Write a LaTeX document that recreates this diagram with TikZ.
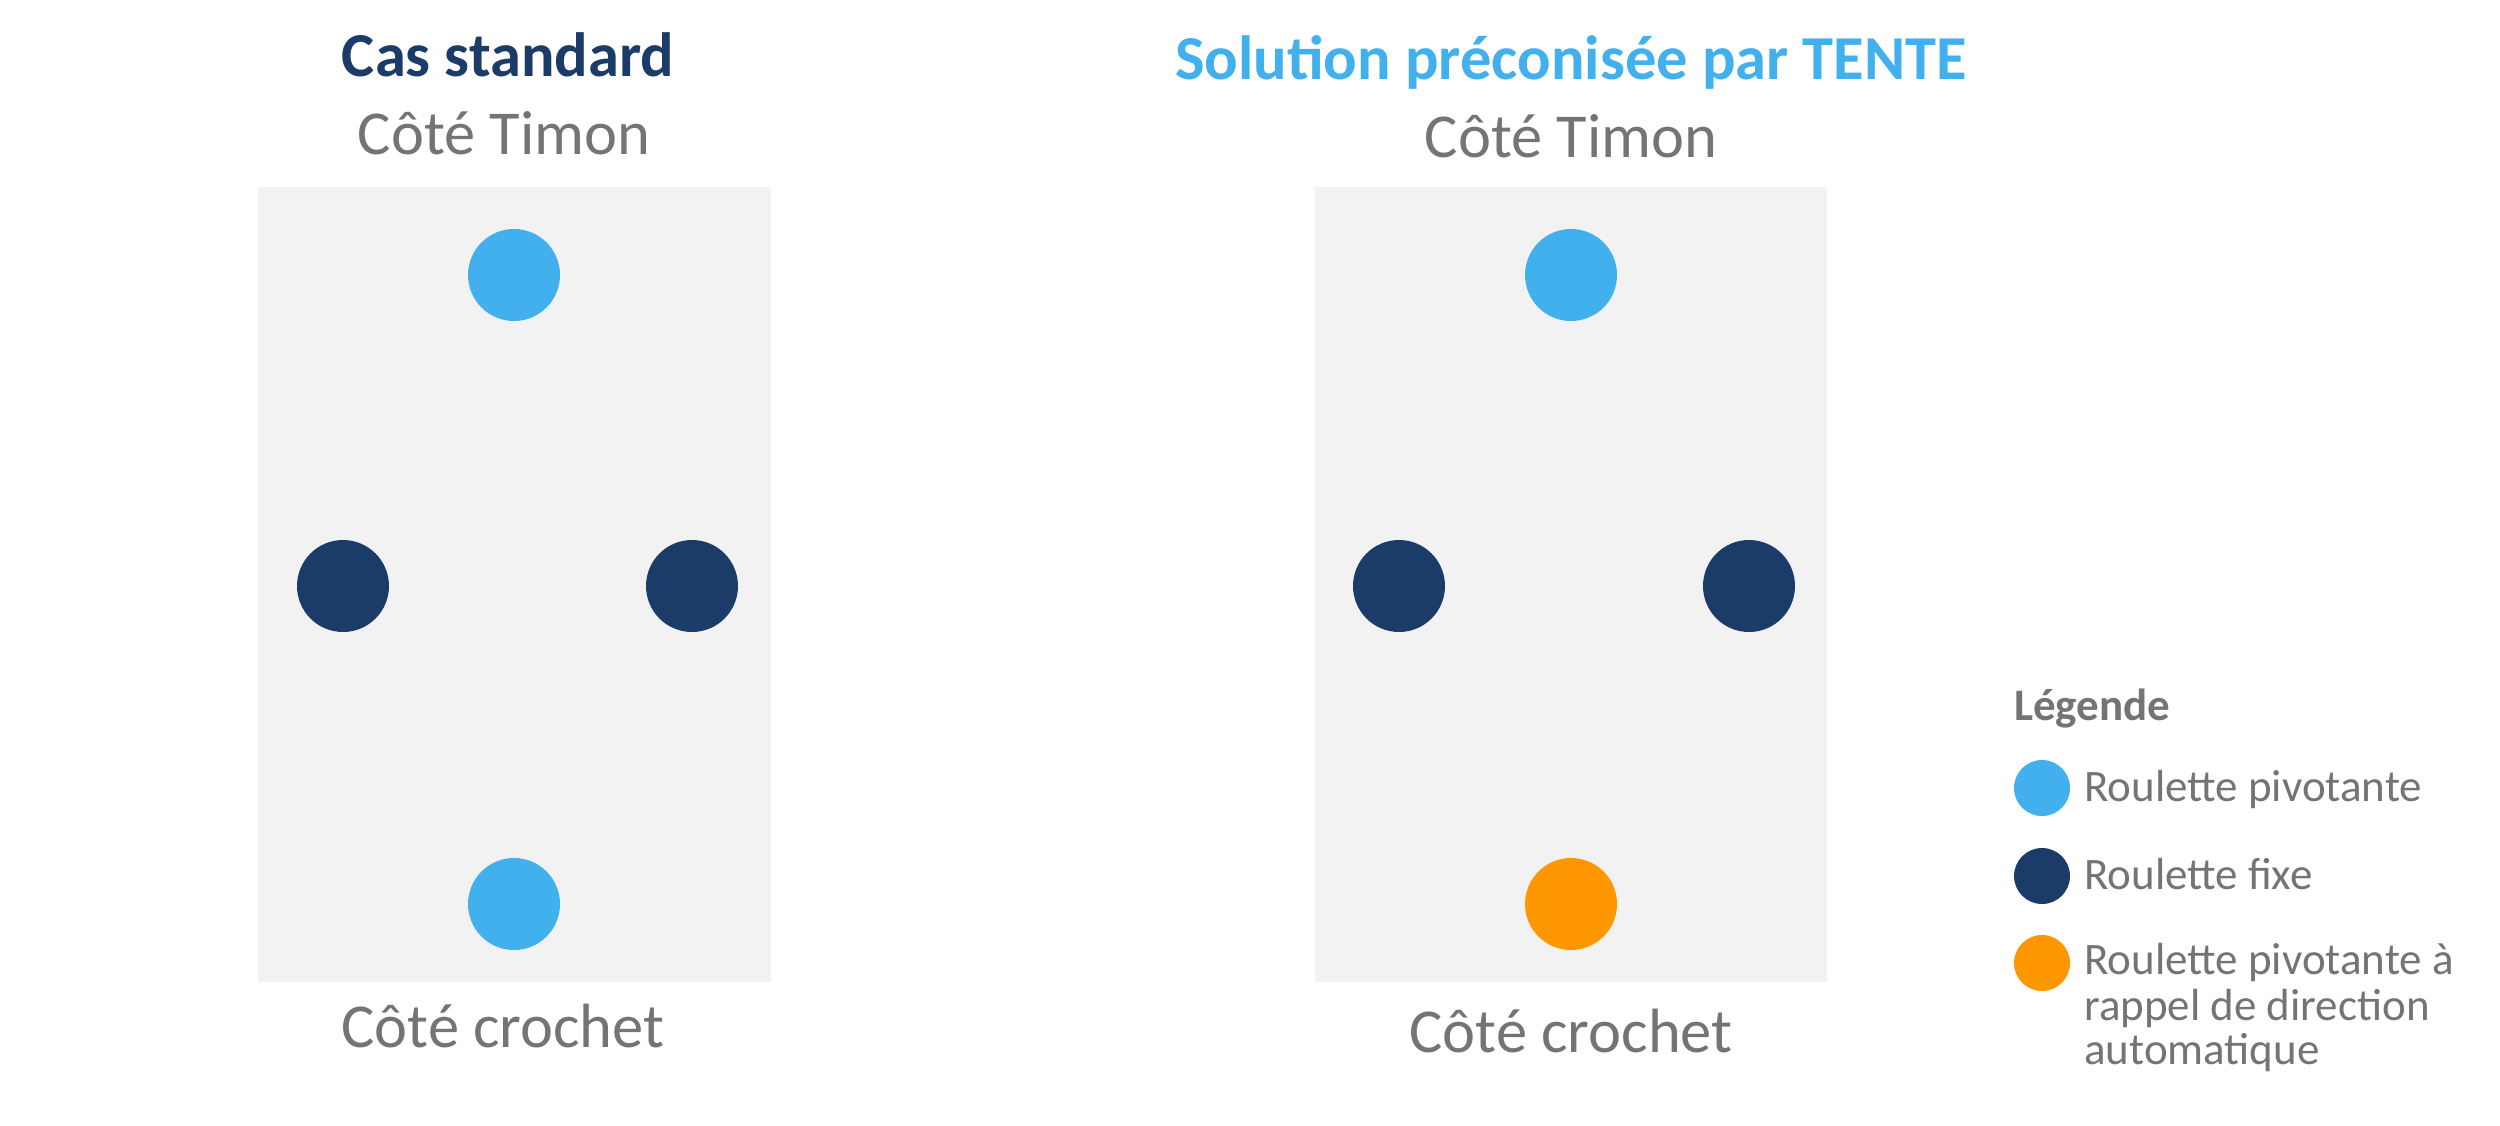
\documentclass[tikz,border=0pt]{standalone}
\usepackage{fontspec}
\setmainfont{Carlito}
\definecolor{darkblue}{HTML}{1B3C69}
\definecolor{lightblue}{HTML}{41B0EC}
\definecolor{orangec}{HTML}{FF9700}
\definecolor{panel}{HTML}{F2F2F2}
\definecolor{txtgray}{HTML}{747474}
\begin{document}
\begin{tikzpicture}[x=1pt,y=-1pt,
  panelbox/.style={fill=panel,draw=none},
  wheel/.style={circle,minimum size=92pt,inner sep=0pt,draw=none},
  lwheel/.style={circle,minimum size=56pt,inner sep=0pt,draw=none},
  side/.style={font=\fontsize{62.5}{70}\selectfont,text=txtgray,anchor=base,inner sep=0pt},
  title/.style={font=\fontsize{62.5}{70}\selectfont\bfseries,anchor=base,inner sep=0pt},
  legtext/.style={font=\fontsize{45}{45}\selectfont,text=txtgray,anchor=base west,inner sep=0pt,align=left}]
\useasboundingbox (0,0) rectangle (2500,1125);
\fill[white] (0,0) rectangle (2500,1125);
% panels
\path[panelbox] (258,187) rectangle (771,982);
\path[panelbox] (1315,187) rectangle (1827,982);
% titles
\node[title,text=darkblue] (t1) at (508,76) {Cas standard};
\node[title,text=lightblue] (t2) at (1571,79) {Solution préconisée par TENTE};
\node[side] (l1) at (504,154) {Côté Timon};
\node[side] (l2) at (1571,157) {Côté Timon};
\node[side] (b1) at (503,1047) {Côté crochet};
\node[side] (b2) at (1571,1052) {Côté crochet};
% left wheels
\node[wheel,fill=lightblue] (a1) at (514,275) {};
\node[wheel,fill=darkblue] (a2) at (343,586) {};
\node[wheel,fill=darkblue] (a3) at (692,586) {};
\node[wheel,fill=lightblue] (a4) at (514,904) {};
% right wheels
\node[wheel,fill=lightblue] (c1) at (1571,275) {};
\node[wheel,fill=darkblue] (c2) at (1399,586) {};
\node[wheel,fill=darkblue] (c3) at (1749,586) {};
\node[wheel,fill=orangec] (c4) at (1571,904) {};
% legend
\node[legtext,font=\fontsize{45}{45}\selectfont\bfseries] (lg) at (2014,720) {Légende};
\node[lwheel,fill=lightblue] (g1) at (2042,788) {};
\node[lwheel,fill=darkblue] (g2) at (2042,876) {};
\node[lwheel,fill=orangec] (g3) at (2042,963) {};
\node[legtext] (e1) at (2084,801) {Roulette pivotante};
\node[legtext] (e2) at (2084,889) {Roulette fixe};
\node[legtext] (e3a) at (2084,974) {Roulette pivotante à};
\node[legtext] (e3b) at (2084,1020) {rappel de direction};
\node[legtext] (e3c) at (2084,1064) {automatique};
\end{tikzpicture}
\end{document}
